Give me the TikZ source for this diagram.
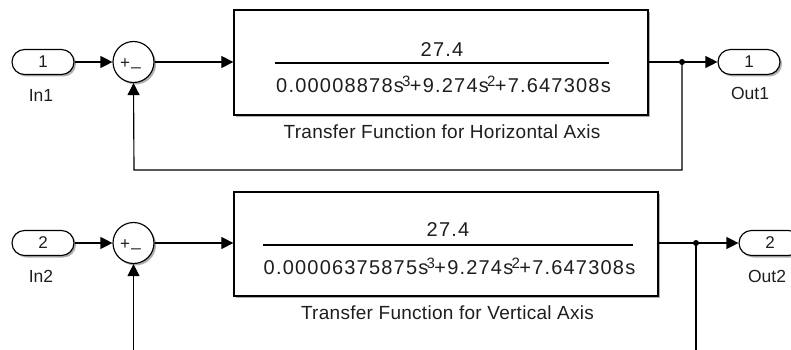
\documentclass[tikz,border=0pt]{standalone}
\usepackage{fontspec}
\setmainfont{Liberation Sans}
\newfontfamily\numfont[LetterSpace=6]{Liberation Sans}
\newfontfamily\lblfont[LetterSpace=1.5]{Liberation Sans}
\usetikzlibrary{arrows.meta,shadows}
\newcommand{\supx}[1]{\kern-1.8pt\raisebox{6pt}{\fontsize{15}{15}\selectfont #1}\kern-0.5pt}
\definecolor{txt}{HTML}{1e1e1e}
\begin{document}
\begin{tikzpicture}[x=1pt,y=-1pt,
  wire/.style={line width=1.15pt, draw=black},
  sig/.style={wire, -{Triangle[length=12pt,width=12pt]}},
  shad/.style={drop shadow={shadow xshift=2pt,shadow yshift=-2pt,opacity=.45,fill=black!70}},
  port/.style={draw, line width=1.15pt, rounded corners=12.5pt, minimum width=62pt, minimum height=25pt,
     inner sep=0pt, fill=white, text=txt, font=\fontsize{17}{17}\selectfont, shad},
  sumblk/.style={circle, draw, line width=1.15pt, minimum size=41pt, inner sep=0pt, fill=white, shad},
  tfblk/.style={draw, line width=1.3pt, fill=white, inner sep=0pt, shad},
  lbl/.style={text=txt, inner sep=0pt, font=\fontsize{17.5}{17.5}\selectfont},
  numtxt/.style={text=txt, inner sep=0pt, font=\fontsize{20}{22}\selectfont\numfont},
  captxt/.style={text=txt, inner sep=0pt, font=\fontsize{19}{21}\selectfont\lblfont},
  signtxt/.style={text=txt, inner sep=0pt, font=\fontsize{17}{17}\selectfont}
]
\useasboundingbox (0,0) rectangle (791,350);
\clip (0,0) rectangle (791,350);
\fill[white] (0,0) rectangle (791,350);

% ---------- top loop ----------
\node[port] (in1) at (43,62) {1};
\node[lbl] (in1l) at (41,95) {In1};
\node[sumblk] (sum1) at (133.5,62) {};
\node[signtxt] (p1) at (125,63.5) {+};
\node[signtxt] (m1) at (136,67) {\_};
\node[tfblk, minimum width=414pt, minimum height=105pt] (tf1) at (441,62.5) {};
\node[numtxt] (n1) at (442,49.5) {27.4};
\coordinate (fl1a) at (275,63);
\coordinate (fl1b) at (609,63);
\draw[line width=1.2pt] (fl1a) -- (fl1b);
\node[numtxt] (d1) at (443.5,84) {0.00008878s\supx{3}+9.274s\supx{2}+7.647308s};
\node[captxt] (c1) at (442,132) {Transfer Function for Horizontal Axis};
\node[port] (out1) at (749,62) {1};
\node[lbl] (out1l) at (750,93) {Out1};
\coordinate (j1) at (682,62);
\coordinate (fb1) at (134,170);

\draw[sig] (in1) -- (sum1);
\draw[sig] (sum1) -- (tf1.west |- sum1);
\draw[wire] (tf1.east |- j1) -- (j1);
\draw[sig] (j1) -- (out1);
\draw[sig] (j1) -- (j1 |- fb1) -- (fb1) -- (sum1.south);
\fill (j1) circle (3pt);

% ---------- bottom loop ----------
\node[port] (in2) at (43,243) {2};
\node[lbl] (in2l) at (41,276) {In2};
\node[sumblk] (sum2) at (133.5,243) {};
\node[signtxt] (p2) at (125,244.5) {+};
\node[signtxt] (m2) at (136,248) {\_};
\node[tfblk, minimum width=424pt, minimum height=104pt] (tf2) at (446,244) {};
\node[numtxt] (n2) at (448,229.5) {27.4};
\coordinate (fl2a) at (263,245);
\coordinate (fl2b) at (633,245);
\draw[line width=1.2pt] (fl2a) -- (fl2b);
\node[numtxt] (d2) at (449.5,266) {0.00006375875s\supx{3}+9.274s\supx{2}+7.647308s};
\node[captxt] (c2) at (447.5,313) {Transfer Function for Vertical Axis};
\node[port] (out2) at (770,243) {2};
\node[lbl] (out2l) at (767,276) {Out2};
\coordinate (j2) at (696,243);
\coordinate (b2j) at (696,352);
\coordinate (b2s) at (133.5,352);

\draw[sig] (in2) -- (sum2);
\draw[sig] (sum2) -- (tf2.west |- sum2);
\draw[wire] (tf2.east |- j2) -- (j2);
\draw[sig] (j2) -- (out2);
\draw[wire] (j2) -- (b2j);
\draw[sig] (b2s) -- (sum2.south);
\fill (j2) circle (3pt);
\end{tikzpicture}
\end{document}
